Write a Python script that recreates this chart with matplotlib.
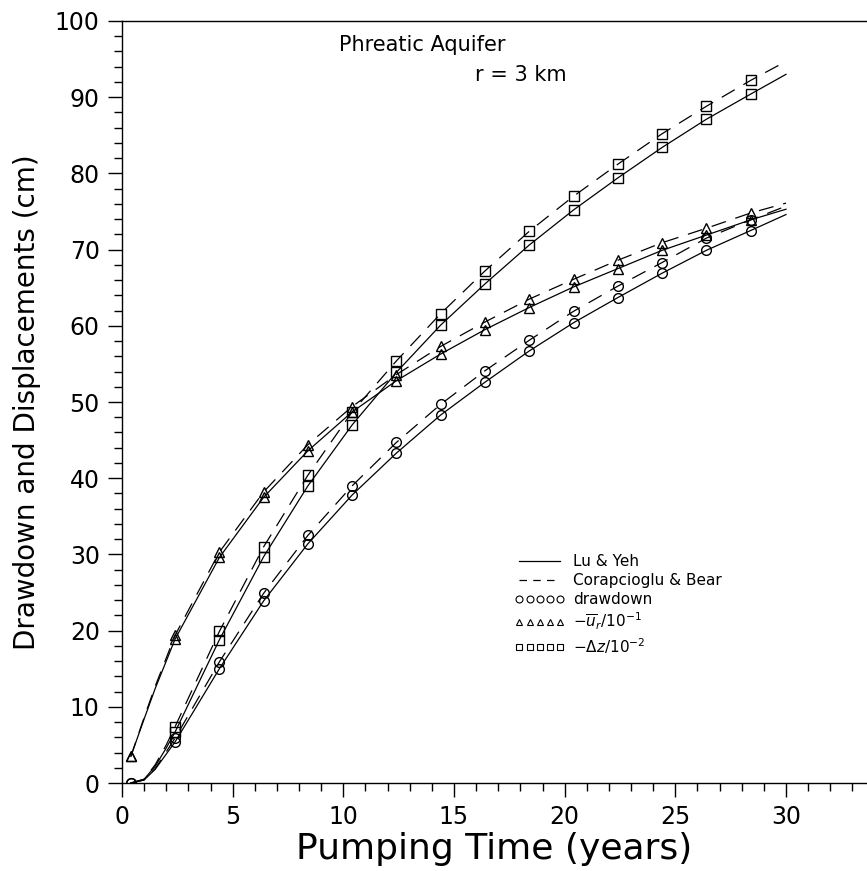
import matplotlib
matplotlib.use("Agg")
import matplotlib.pyplot as plt
from matplotlib.lines import Line2D
from matplotlib.ticker import MultipleLocator

# pumping time (years) of the computed curves; symbols sit every 2 years from 0.4
t_line = [0.4, 1.0, 1.5, 2.0, 2.4, 4.4, 6.4, 8.4, 10.4, 12.4, 14.4,
          16.4, 18.4, 20.4, 22.4, 24.4, 26.4, 28.4, 30.0]
t_mark = [0.4, 2.4, 4.4, 6.4, 8.4, 10.4, 12.4, 14.4, 16.4, 18.4, 20.4,
          22.4, 24.4, 26.4, 28.4]

# Lu & Yeh (solid)
drawdown_ly = [0.0, 0.4, 1.8, 3.8, 5.4, 15.0, 23.9, 31.4, 37.8, 43.3, 48.3,
               52.6, 56.7, 60.4, 63.7, 66.9, 69.9, 72.5, 74.6]
ur_ly = [3.5, 8.4, 12.4, 16.0, 18.9, 29.6, 37.5, 43.6, 48.7, 52.8, 56.3,
         59.5, 62.4, 65.1, 67.5, 69.9, 71.9, 73.9, 75.3]
dz_ly = [0.0, 0.5, 2.2, 4.6, 6.7, 18.8, 29.7, 39.0, 47.0, 53.9, 60.1,
         65.5, 70.6, 75.2, 79.4, 83.4, 87.1, 90.4, 93.0]

# Corapcioglu & Bear (dashed)
drawdown_cb = [0.0, 0.4, 1.9, 4.1, 5.9, 15.9, 24.9, 32.5, 39.0, 44.7, 49.7,
               54.1, 58.1, 61.9, 65.2, 68.3, 71.5, 73.9, 75.7]
ur_cb = [3.5, 8.6, 12.7, 16.4, 19.4, 30.3, 38.2, 44.4, 49.4, 53.6, 57.3,
         60.5, 63.5, 66.1, 68.6, 70.9, 72.8, 74.8, 76.1]
dz_cb = [0.0, 0.5, 2.4, 5.0, 7.4, 19.9, 31.0, 40.4, 48.7, 55.4, 61.6,
         67.2, 72.4, 77.0, 81.2, 85.2, 88.8, 92.2, 94.7]

DASH = (0, (12, 8))

plt.rcParams["font.family"] = ["DejaVu Sans"]
plt.rcParams["mathtext.fontset"] = "dejavusans"

fig = plt.figure(figsize=(8.67, 8.71), dpi=100)
ax = fig.add_axes([0.1407, 0.1010, 1 - 0.1407, 0.8749])


def draw(vals, ls, marker, skip_first=False):
    ax.plot(t_line, vals, color="black", lw=0.9, ls=ls)
    pts = [(t, v) for t, v in zip(t_line, vals) if t in t_mark]
    if skip_first:
        pts = pts[1:]
    ax.plot([p[0] for p in pts], [p[1] for p in pts], ls="none",
            marker=marker, ms=7, mfc="none", mec="black", mew=1.0)


draw(drawdown_ly, "-", "o")
draw(drawdown_cb, DASH, "o")
draw(ur_ly, "-", "^")
draw(ur_cb, DASH, "^")
draw(dz_ly, "-", "s", skip_first=True)
draw(dz_cb, DASH, "s", skip_first=True)

ax.set_xlim(0, 33.66)
ax.set_ylim(0, 100)
ax.xaxis.set_major_locator(MultipleLocator(5))
ax.xaxis.set_minor_locator(MultipleLocator(1))
ax.yaxis.set_major_locator(MultipleLocator(10))
ax.yaxis.set_minor_locator(MultipleLocator(2))
ax.tick_params(which="major", direction="out", length=10, width=1.0,
               labelsize=17, pad=6)
ax.tick_params(which="minor", direction="out", length=6, width=1.0)
ax.spines["right"].set_visible(False)
for s in ("left", "bottom", "top"):
    ax.spines[s].set_linewidth(1.0)

ax.set_xlabel("Pumping Time (years)", fontsize=26, labelpad=2)
ax.set_ylabel("Drawdown and Displacements (cm)", fontsize=20, labelpad=10)

ax.text(9.8, 96.8, "Phreatic Aquifer", fontsize=15, ha="left", va="center")
ax.text(20.1, 92.9, "r = 3 km", fontsize=15, ha="right", va="center")

handles = [
    Line2D([], [], color="black", lw=0.9, ls="-"),
    Line2D([], [], color="black", lw=0.9, ls=(0, (6, 5))),
    Line2D([], [], ls="none", marker="o", ms=5, mfc="none", mec="black", mew=0.8),
    Line2D([], [], ls="none", marker="^", ms=5, mfc="none", mec="black", mew=0.8),
    Line2D([], [], ls="none", marker="s", ms=5, mfc="none", mec="black", mew=0.8),
]
labels = ["Lu & Yeh", "Corapcioglu & Bear", "drawdown",
          r"$-\overline{u}_r/10^{-1}$", r"$-\Delta z/10^{-2}$"]
ax.legend(handles, labels, loc="upper left", bbox_to_anchor=(0.527, 0.300),
          frameon=False, fontsize=11, numpoints=5, handlelength=3.3,
          handletextpad=0.5, labelspacing=0.25, borderpad=0, borderaxespad=0)

fig.savefig("out.png", dpi=100)
